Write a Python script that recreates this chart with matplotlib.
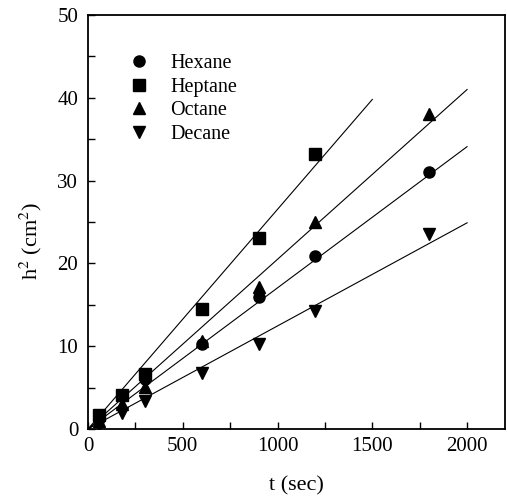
import numpy as np
import matplotlib
matplotlib.use("Agg")
import matplotlib.pyplot as plt
from matplotlib.ticker import MultipleLocator

plt.rcParams['font.family'] = ['Liberation Serif', 'DejaVu Serif']
plt.rcParams['mathtext.fontset'] = 'stix'

# measurement times (sec)
t = [60, 180, 300, 600, 900, 1200, 1800]

# h^2 (cm^2)
hexane = [1.3, 4.0, 6.0, 10.3, 16.0, 20.9, 31.0]
heptane = [1.7, 4.1, 6.6, 14.5, 23.1, 33.2]
octane = [1.0, 3.0, 5.1, 10.6, 17.1, 25.0, 38.0]
decane = [0.5, 1.9, 3.4, 6.8, 10.3, 14.2, 23.5]

# fitted lines: start at origin, end points
fit_end_t = {'Hexane': 2000, 'Heptane': 1500, 'Octane': 2000, 'Decane': 2000}
fit_end_h = {'Hexane': 34.1, 'Heptane': 39.8, 'Octane': 41.0, 'Decane': 24.9}

series = [('Hexane', hexane, 'o'), ('Heptane', heptane, 's'),
          ('Octane', octane, '^'), ('Decane', decane, 'v')]

fig = plt.figure(figsize=(5.07, 5.01), dpi=100)
ax = fig.add_axes([88/507, 72/501, 417/507, 414/501])

for name, h, m in series:
    ax.plot([0, fit_end_t[name]], [0, fit_end_h[name]], color='k', lw=0.8, zorder=1)
    ax.plot(t[:len(h)], h, linestyle='none', marker=m, color='k', ms=8, label=name, zorder=2)

ax.set_xlim(0, 2200)
ax.set_ylim(0, 50)
ax.xaxis.set_major_locator(MultipleLocator(500))
ax.xaxis.set_minor_locator(MultipleLocator(250))
ax.yaxis.set_major_locator(MultipleLocator(10))
ax.yaxis.set_minor_locator(MultipleLocator(5))
ax.tick_params(which='both', direction='in', labelsize=15, width=1, length=5)
ax.tick_params(axis='x', pad=6)
ax.tick_params(axis='y', pad=7)
for s in ax.spines.values():
    s.set_linewidth(1.3)

ax.set_xlabel('t (sec)', fontsize=16, labelpad=14)
ax.set_ylabel('h$^2$ (cm$^2$)', fontsize=16)
ax.yaxis.set_label_coords(-0.105, 0.455)

ax.legend(loc='upper left', bbox_to_anchor=(0.055, 0.925), frameon=False, fontsize=14.5,
          handletextpad=0.55, labelspacing=0.22, borderaxespad=0)

fig.savefig('out.png', dpi=100)
